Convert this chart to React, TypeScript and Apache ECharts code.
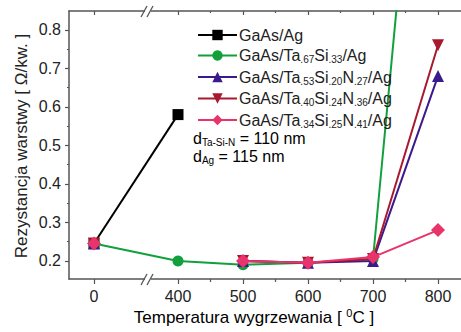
import React, { useEffect, useRef } from "react";
import * as echarts from "echarts";

const temps = [0, 400, 500, 600, 700, 800];
const tickLabels = ["0", "400", "500", "600", "700", "800"];
const minorTemps = [450, 550, 650, 750];
const yTicks = [0.2, 0.3, 0.4, 0.5, 0.6, 0.7, 0.8];
const yMinor = [0.25, 0.35, 0.45, 0.55, 0.65, 0.75];

const seriesNames = [
  "GaAs/Ag",
  "GaAs/Ta_{.67}Si_{.33}/Ag",
  "GaAs/Ta_{.53}Si_{.20}N_{.27}/Ag",
  "GaAs/Ta_{.40}Si_{.24}N_{.36}/Ag",
  "GaAs/Ta_{.34}Si_{.25}N_{.41}/Ag",
];
const gaasAg = [0.245, 0.58, null, null, null, null];
const ta67 = [0.245, 0.2, 0.19, 0.195, 0.205, 2.0];
const ta53 = [0.245, null, 0.2, 0.195, 0.2, 0.68];
const ta40 = [0.245, null, 0.2, 0.195, 0.205, 0.76];
const ta34 = [0.245, null, 0.2, 0.195, 0.21, 0.28];

const colors = ["#000000", "#12a03c", "#3b1a8e", "#a8182e", "#e8336b"];
const symbols = ["rect", "circle", "triangle", "triangle", "diamond"];

const FONT = "'Liberation Sans', Arial, sans-serif";
const TXT = "#222";
const AX = "#555";

// broken axis: 0..400 compressed
const BREAK_SPAN = 84 / 65;
const pos = (t: number) => (t <= 400 ? (t / 400) * BREAK_SPAN : BREAK_SPAN + (t - 400) / 100);
const XMIN = -25 / 65;
const XMAX = (461 - 94) / 65;

const toRich = (s: string) => "{n|" + s.replace(/_\{([^}]*)\}/g, "}{s|$1}{n|") + "}";

const rich = {
  n: { fontSize: 16, fontFamily: FONT, color: TXT, lineHeight: 18 },
  s: { fontSize: 10, fontFamily: FONT, color: TXT, lineHeight: 8, verticalAlign: "bottom" },
  sup: { fontSize: 11, fontFamily: FONT, color: TXT, lineHeight: 10, verticalAlign: "top" },
  t: { fontSize: 17, fontFamily: FONT, color: TXT, lineHeight: 20 },
};

export default function App() {
  const ref = useRef<HTMLDivElement>(null);
  useEffect(() => {
    const chart = echarts.init(ref.current!, null, { renderer: "svg" });
    const datas = [gaasAg, ta67, ta53, ta40, ta34];
    const sizes = [11, 11, 12, 12, 14];
    const series = datas.map((d, i) => ({
      name: seriesNames[i],
      type: "line",
      data: d.map((v, j) => [pos(temps[j]), v]),
      connectNulls: false,
      clip: true,
      symbol: symbols[i],
      symbolRotate: i === 3 ? 180 : 0,
      symbolSize: sizes[i],
      showSymbol: true,
      lineStyle: { color: colors[i], width: 2 },
      itemStyle: { color: colors[i] },
      z: 2 + i,
    }));
    const majorPos = temps.map(pos);
    const minorPos = minorTemps.map(pos);
    const baseX = {
      type: "value",
      min: XMIN,
      max: XMAX,
      splitLine: { show: false },
      gridIndex: 0,
    };
    chart.setOption({
      animation: false,
      grid: { left: 69, top: 11, right: 0, bottom: 53, containLabel: false },
      legend: {
        orient: "vertical",
        left: 192,
        top: 22,
        itemWidth: 39,
        itemHeight: 13,
        itemGap: 4.5,
        selectedMode: false,
        data: seriesNames,
        formatter: (name: string) => toRich(name),
        textStyle: { rich, fontSize: 16, fontFamily: FONT, color: TXT, padding: [0, 0, 0, -3] },
      },
      xAxis: [
        {
          ...baseX,
          position: "bottom",
          axisLine: { show: true, onZero: false, lineStyle: { color: AX, width: 1.5 } },
          axisTick: { show: true, inside: false, length: 5, customValues: majorPos, lineStyle: { color: AX, width: 1.2 } },
          axisLabel: {
            show: true,
            customValues: majorPos,
            margin: 9,
            fontSize: 16,
            fontFamily: FONT,
            color: TXT,
            formatter: (v: number) => {
              const k = majorPos.findIndex((p) => Math.abs(p - v) < 1e-6);
              return k >= 0 ? tickLabels[k] : "";
            },
          },
        },
        {
          ...baseX,
          position: "bottom",
          axisLine: { show: false, onZero: false },
          axisTick: { show: true, inside: false, length: 3, customValues: minorPos, lineStyle: { color: AX, width: 1.2 } },
          axisLabel: { show: false },
        },
        {
          ...baseX,
          position: "top",
          axisLine: { show: true, onZero: false, lineStyle: { color: AX, width: 1.5 } },
          axisTick: { show: true, inside: true, length: 4, customValues: majorPos, lineStyle: { color: AX, width: 1.2 } },
          axisLabel: { show: false },
        },
        {
          ...baseX,
          position: "top",
          axisLine: { show: false, onZero: false },
          axisTick: { show: true, inside: true, length: 2, customValues: minorPos, lineStyle: { color: AX, width: 1.2 } },
          axisLabel: { show: false },
        },
      ],
      yAxis: [
        {
          type: "value",
          min: 0.153,
          max: 0.849,
          position: "left",
          splitLine: { show: false },
          axisLine: { show: true, onZero: false, lineStyle: { color: AX, width: 1.5 } },
          axisTick: { show: true, inside: false, length: 4, customValues: yTicks, lineStyle: { color: AX, width: 1.2 } },
          axisLabel: {
            show: true,
            customValues: yTicks,
            margin: 8,
            fontSize: 16,
            fontFamily: FONT,
            color: TXT,
            formatter: (v: number) => v.toFixed(1),
          },
        },
        {
          type: "value",
          min: 0.153,
          max: 0.849,
          position: "left",
          splitLine: { show: false },
          axisLine: { show: false, onZero: false },
          axisTick: { show: true, inside: false, length: 2, customValues: yMinor, lineStyle: { color: AX, width: 1.2 } },
          axisLabel: { show: false },
        },
      ],
      series,
      graphic: [
        {
          type: "text",
          left: 193,
          top: 130,
          z: 50,
          style: { text: "{n|d}{s|Ta-Si-N}{n| = 110 nm}\n{n|d}{s|Ag}{n| = 115 nm}", rich },
        },
        {
          type: "text",
          x: 254,
          y: 317,
          z: 50,
          style: { text: "{t|Temperatura wygrzewania [ }{sup|0}{t|C ]}", rich, align: "center", verticalAlign: "middle" },
        },
        {
          type: "text",
          x: 21,
          y: 146,
          rotation: Math.PI / 2,
          z: 50,
          style: {
            text: "Rezystancja warstwy [ Ω/kw. ]",
            fontSize: 17,
            fontFamily: FONT,
            fill: TXT,
            align: "center",
            verticalAlign: "middle",
          },
        },
        { type: "rect", shape: { x: 145, y: 276, width: 6, height: 6 }, style: { fill: "#fff" }, z: 60 },
        { type: "rect", shape: { x: 145, y: 8, width: 6, height: 6 }, style: { fill: "#fff" }, z: 60 },
        { type: "line", shape: { x1: 141, y1: 285, x2: 147, y2: 274 }, style: { stroke: AX, lineWidth: 1.3 }, z: 61 },
        { type: "line", shape: { x1: 147, y1: 285, x2: 153, y2: 274 }, style: { stroke: AX, lineWidth: 1.3 }, z: 61 },
        { type: "line", shape: { x1: 141, y1: 17, x2: 147, y2: 6 }, style: { stroke: AX, lineWidth: 1.3 }, z: 61 },
        { type: "line", shape: { x1: 147, y1: 17, x2: 153, y2: 6 }, style: { stroke: AX, lineWidth: 1.3 }, z: 61 },
      ],
    });
    return () => chart.dispose();
  }, []);
  return <div ref={ref} style={{ position: "absolute", left: 0, top: 0, width: 461, height: 332, background: "#fff" }} />;
}
